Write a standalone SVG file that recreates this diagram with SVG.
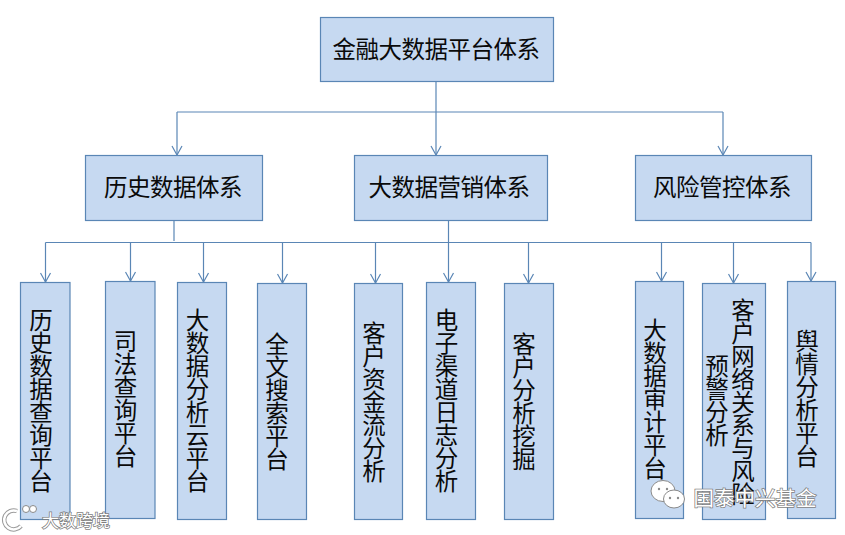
<svg xmlns="http://www.w3.org/2000/svg" width="845" height="535" viewBox="0 0 845 535">
<style>
.b{fill:#c6d9f1;stroke:#5a86b5;stroke-width:1.2}
text{font-family:"Noto Sans CJK SC","Liberation Sans",sans-serif;fill:#0a0a0a;font-size:23.500px;letter-spacing:-0.500px;text-anchor:middle}
.h{dominant-baseline:central}
.v{writing-mode:vertical-rl;text-orientation:upright}
.c{fill:none;stroke:#5a86b5;stroke-width:1.2}
.a{marker-end:url(#ah)}
.wm{fill:#fff;stroke:#7f7f7f;stroke-width:1.500px;letter-spacing:0;paint-order:stroke;dominant-baseline:central}
.ic{fill:#fff;stroke:#8a8a8a;stroke-width:1}
.d{fill:#8a8a8a}
.lo{fill:none;stroke:#9a9a9a;stroke-width:4.500}
.li{fill:none;stroke:#fff;stroke-width:2.500}
</style>
<defs>
<marker id="ah" markerUnits="userSpaceOnUse" markerWidth="12" markerHeight="12" refX="10" refY="6" orient="auto">
<path d="M1 1 L10 6 L1 11" fill="none" stroke="#5a86b5" stroke-width="1.2"/>
</marker>
</defs>
<rect width="845" height="535" fill="#fff"/>
<g id="connectors">
<path class="c" d="M436 81V112"/>
<path class="c" d="M177 112H723"/>
<path class="c a" d="M177 112V155"/>
<path class="c a" d="M436 112V155"/>
<path class="c a" d="M723 112V155"/>
<path class="c" d="M174 220V241"/>
<path class="c" d="M448.500 220V242.500"/>
<path class="c" d="M45.500 242.500H811"/>
<path class="c a" d="M45.500 242.500V282"/>
<path class="c a" d="M130.500 242.500V281"/>
<path class="c a" d="M203.500 242.500V282"/>
<path class="c a" d="M282.500 242.500V283"/>
<path class="c a" d="M375.500 242.500V283"/>
<path class="c a" d="M448.500 242.500V282"/>
<path class="c a" d="M528.500 242.500V283"/>
<path class="c a" d="M661.500 242.500V281"/>
<path class="c a" d="M733.500 242.500V283"/>
<path class="c a" d="M811 242.500V281"/>
</g>
<g id="root"><rect class="b" x="320.500" y="17.500" width="233" height="64"/><text class="h" x="436" y="48">金融大数据平台体系</text></g>
<g id="history"><rect class="b" x="85.500" y="155.500" width="177" height="65"/><text class="h" x="173" y="186">历史数据体系</text></g>
<g id="marketing"><rect class="b" x="354.500" y="155.500" width="193" height="65"/><text class="h" x="449" y="186">大数据营销体系</text></g>
<g id="risk"><rect class="b" x="635.500" y="155.500" width="176" height="65"/><text class="h" x="722" y="186">风险管控体系</text></g>
<g id="n1"><rect class="b" x="20.500" y="282.500" width="49.500" height="237"/><text class="v" x="41" y="400">历史数据查询平台</text></g>
<g id="n2"><rect class="b" x="105.500" y="281.500" width="49.500" height="237"/><text class="v" x="125.500" y="398.500">司法查询平台</text></g>
<g id="n3"><rect class="b" x="177.500" y="282.500" width="49" height="237"/><text class="v" x="197.500" y="400">大数据分析云平台</text></g>
<g id="n4"><rect class="b" x="257.500" y="283.500" width="49" height="236"/><text class="v" x="277" y="401">全文搜索平台</text></g>
<g id="n5"><rect class="b" x="354.500" y="283.500" width="48" height="236"/><text class="v" x="374" y="401.500">客户资金流分析</text></g>
<g id="n6"><rect class="b" x="426.500" y="282.500" width="49" height="237"/><text class="v" x="446.500" y="400">电子渠道日志分析</text></g>
<g id="n7"><rect class="b" x="504.500" y="283.500" width="49" height="236"/><text class="v" x="524" y="401">客户分析挖掘</text></g>
<g id="n8"><rect class="b" x="635.500" y="281.500" width="48" height="237"/><text class="v" x="655" y="399">大数据审计平台</text></g>
<g id="n9"><rect class="b" x="702.500" y="283.500" width="63" height="236"/><text class="v" x="743" y="401.500">客户网络关系与风险</text><text class="v" x="717" y="400.500">预警分析</text></g>
<g id="n10"><rect class="b" x="787.500" y="281.500" width="48" height="237"/><text class="v" x="807" y="398.500">舆情分析平台</text></g>
<text class="wm" x="76" y="519" style="font-size:17px">大数跨境</text>
<text class="wm" x="755" y="497" style="font-size:20.500px">国泰中兴基金</text>
<ellipse class="ic" cx="663" cy="491" rx="12" ry="10.500"/>
<circle class="d" cx="659" cy="489" r="1.200"/><circle class="d" cx="667" cy="489" r="1.200"/>
<ellipse class="ic" cx="674" cy="499" rx="10.500" ry="9"/>
<circle class="d" cx="670" cy="498" r="1.200"/><circle class="d" cx="678" cy="498" r="1.200"/>
<path class="lo" d="M17 511a9.500 9.500 0 1 0 4 15"/><path class="li" d="M17 511a9.500 9.500 0 1 0 4 15"/>
<circle class="ic" cx="26" cy="509" r="3.500"/>
<circle class="ic" cx="33" cy="509" r="3.500"/>
</svg>
